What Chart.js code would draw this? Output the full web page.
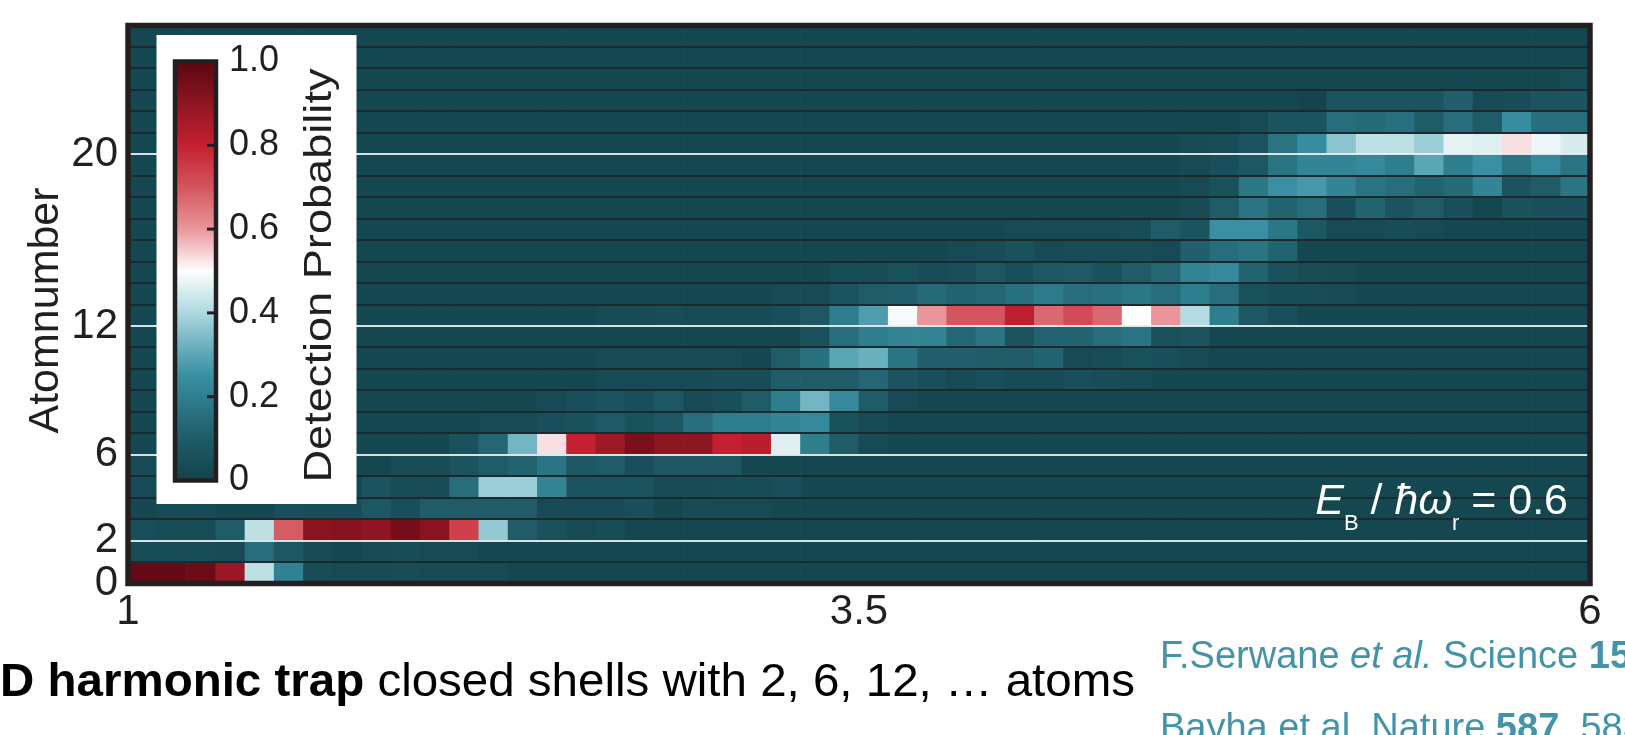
<!DOCTYPE html>
<html>
<head>
<meta charset="utf-8">
<title>Shell structure – detection probability</title>
<script src="https://cdn.jsdelivr.net/npm/chart.js@4.4.1/dist/chart.umd.min.js"></script>
<style>
  html, body { margin: 0; padding: 0; background: #fff; }
  #wrap { width: 1625px; height: 735px; position: relative; }
</style>
</head>
<body>
<div id="wrap"><canvas id="shells"></canvas></div>
<script>
// column centres along the x axis (trap parameter, 1 … 6)
const xBins = [
  1.05, 1.15, 1.25, 1.35, 1.45, 1.55, 1.65, 1.75, 1.85, 1.95,
  2.05, 2.15, 2.25, 2.35, 2.45, 2.55, 2.65, 2.75, 2.85, 2.95,
  3.05, 3.15, 3.25, 3.35, 3.45, 3.55, 3.65, 3.75, 3.85, 3.95,
  4.05, 4.15, 4.25, 4.35, 4.45, 4.55, 4.65, 4.75, 4.85, 4.95,
  5.05, 5.15, 5.25, 5.35, 5.45, 5.55, 5.65, 5.75, 5.85, 5.95
];
const xTickPos  = [1, 3.5, 6];
const xTickText = ['1', '3.5', '6'];
const yTickPos  = [0, 2, 6, 12, 20];
const yTickText = ['0', '2', '6', '12', '20'];
const shellLines = [2, 6, 12, 20];
const cbarTicks = [0, 0.2, 0.4, 0.6, 0.8, 1.0];
const cbarText  = ['0', '0.2', '0.4', '0.6', '0.8', '1.0'];

// detection probability per atom number (row), one value per x bin
const atoms0 = [
  0.98, 0.98, 0.97, 0.88, 0.42, 0.21, 0.04, 0.03, 0.03, 0.04,
  0.03, 0.03, 0.03, 0.02, 0.02, 0.02, 0.02, 0.02, 0.02, 0.02,
  0.02, 0.02, 0.02, 0.02, 0.02, 0.02, 0.02, 0.02, 0.02, 0.02,
  0.02, 0.02, 0.02, 0.02, 0.02, 0.02, 0.02, 0.02, 0.02, 0.02,
  0.02, 0.02, 0.02, 0.02, 0.02, 0.02, 0.02, 0.02, 0.02, 0.02];
const atoms1 = [
  0.04, 0.04, 0.04, 0.03, 0.15, 0.08, 0.03, 0.02, 0.03, 0.04,
  0.03, 0.03, 0.02, 0.02, 0.02, 0.02, 0.02, 0.02, 0.02, 0.02,
  0.02, 0.02, 0.02, 0.02, 0.02, 0.02, 0.02, 0.02, 0.02, 0.02,
  0.02, 0.02, 0.02, 0.02, 0.02, 0.02, 0.02, 0.02, 0.02, 0.02,
  0.02, 0.02, 0.02, 0.02, 0.02, 0.02, 0.02, 0.02, 0.02, 0.02];
const atoms2 = [
  0.05, 0.04, 0.04, 0.10, 0.42, 0.69, 0.91, 0.92, 0.90, 0.95,
  0.91, 0.74, 0.37, 0.10, 0.06, 0.03, 0.04, 0.02, 0.02, 0.02,
  0.02, 0.02, 0.02, 0.02, 0.02, 0.02, 0.02, 0.02, 0.02, 0.02,
  0.02, 0.02, 0.02, 0.02, 0.02, 0.02, 0.02, 0.02, 0.02, 0.02,
  0.02, 0.02, 0.02, 0.02, 0.02, 0.02, 0.02, 0.02, 0.02, 0.02];
const atoms3 = [
  0.02, 0.03, 0.03, 0.02, 0.02, 0.05, 0.04, 0.04, 0.08, 0.05,
  0.10, 0.10, 0.10, 0.10, 0.03, 0.03, 0.03, 0.05, 0.02, 0.03,
  0.03, 0.03, 0.02, 0.02, 0.02, 0.02, 0.02, 0.02, 0.02, 0.02,
  0.02, 0.02, 0.02, 0.02, 0.02, 0.02, 0.02, 0.02, 0.02, 0.02,
  0.02, 0.02, 0.02, 0.02, 0.02, 0.02, 0.02, 0.02, 0.02, 0.02];
const atoms4 = [
  0.03, 0.02, 0.02, 0.02, 0.02, 0.02, 0.02, 0.02, 0.07, 0.04,
  0.04, 0.15, 0.38, 0.38, 0.22, 0.07, 0.07, 0.07, 0.03, 0.03,
  0.04, 0.04, 0.05, 0.02, 0.02, 0.02, 0.02, 0.02, 0.02, 0.02,
  0.02, 0.02, 0.02, 0.02, 0.02, 0.02, 0.02, 0.02, 0.02, 0.02,
  0.02, 0.02, 0.02, 0.02, 0.02, 0.02, 0.02, 0.02, 0.02, 0.02];
const atoms5 = [
  0.03, 0.02, 0.02, 0.02, 0.02, 0.02, 0.02, 0.02, 0.02, 0.04,
  0.04, 0.07, 0.10, 0.12, 0.17, 0.08, 0.10, 0.05, 0.08, 0.08,
  0.08, 0.02, 0.02, 0.02, 0.02, 0.02, 0.02, 0.02, 0.02, 0.02,
  0.02, 0.02, 0.02, 0.02, 0.02, 0.02, 0.02, 0.02, 0.02, 0.02,
  0.02, 0.02, 0.02, 0.02, 0.02, 0.02, 0.02, 0.02, 0.02, 0.02];
const atoms6 = [
  0.02, 0.02, 0.02, 0.02, 0.02, 0.02, 0.02, 0.02, 0.02, 0.02,
  0.02, 0.06, 0.13, 0.33, 0.53, 0.80, 0.87, 0.94, 0.90, 0.90,
  0.80, 0.82, 0.46, 0.20, 0.10, 0.03, 0.02, 0.02, 0.02, 0.02,
  0.02, 0.02, 0.02, 0.02, 0.02, 0.02, 0.02, 0.02, 0.02, 0.02,
  0.02, 0.02, 0.02, 0.02, 0.02, 0.02, 0.02, 0.02, 0.02, 0.02];
const atoms7 = [
  0.02, 0.02, 0.02, 0.02, 0.02, 0.02, 0.02, 0.02, 0.02, 0.02,
  0.02, 0.02, 0.03, 0.03, 0.05, 0.06, 0.09, 0.06, 0.08, 0.15,
  0.20, 0.20, 0.22, 0.23, 0.06, 0.03, 0.02, 0.02, 0.02, 0.02,
  0.02, 0.02, 0.02, 0.02, 0.02, 0.02, 0.02, 0.02, 0.02, 0.02,
  0.02, 0.02, 0.02, 0.02, 0.02, 0.02, 0.02, 0.02, 0.02, 0.02];
const atoms8 = [
  0.02, 0.02, 0.02, 0.02, 0.02, 0.02, 0.02, 0.02, 0.02, 0.02,
  0.02, 0.02, 0.02, 0.02, 0.03, 0.05, 0.07, 0.05, 0.08, 0.03,
  0.05, 0.10, 0.20, 0.33, 0.23, 0.10, 0.03, 0.02, 0.02, 0.02,
  0.02, 0.02, 0.02, 0.02, 0.02, 0.02, 0.02, 0.02, 0.02, 0.02,
  0.02, 0.02, 0.02, 0.02, 0.02, 0.02, 0.02, 0.02, 0.02, 0.02];
const atoms9 = [
  0.02, 0.02, 0.02, 0.02, 0.02, 0.02, 0.02, 0.02, 0.02, 0.02,
  0.02, 0.02, 0.02, 0.02, 0.02, 0.02, 0.03, 0.03, 0.03, 0.03,
  0.04, 0.04, 0.10, 0.10, 0.10, 0.13, 0.07, 0.05, 0.03, 0.05,
  0.03, 0.03, 0.05, 0.04, 0.03, 0.02, 0.02, 0.02, 0.02, 0.02,
  0.02, 0.02, 0.02, 0.02, 0.02, 0.02, 0.02, 0.02, 0.02, 0.02];
const atoms10 = [
  0.02, 0.02, 0.02, 0.02, 0.02, 0.02, 0.02, 0.02, 0.02, 0.02,
  0.02, 0.02, 0.02, 0.02, 0.02, 0.02, 0.03, 0.03, 0.03, 0.03,
  0.03, 0.02, 0.10, 0.16, 0.30, 0.32, 0.17, 0.11, 0.11, 0.10,
  0.10, 0.12, 0.03, 0.04, 0.06, 0.05, 0.03, 0.02, 0.02, 0.02,
  0.02, 0.02, 0.02, 0.02, 0.02, 0.02, 0.02, 0.02, 0.02, 0.02];
const atoms11 = [
  0.02, 0.02, 0.02, 0.02, 0.02, 0.02, 0.02, 0.02, 0.02, 0.02,
  0.02, 0.02, 0.02, 0.02, 0.02, 0.02, 0.02, 0.02, 0.02, 0.02,
  0.02, 0.02, 0.02, 0.06, 0.15, 0.20, 0.22, 0.22, 0.13, 0.17,
  0.07, 0.12, 0.12, 0.15, 0.17, 0.06, 0.07, 0.02, 0.02, 0.02,
  0.02, 0.02, 0.02, 0.02, 0.02, 0.02, 0.02, 0.02, 0.02, 0.02];
const atoms12 = [
  0.02, 0.02, 0.02, 0.02, 0.02, 0.02, 0.02, 0.02, 0.02, 0.02,
  0.02, 0.02, 0.02, 0.02, 0.02, 0.02, 0.03, 0.03, 0.04, 0.03,
  0.03, 0.03, 0.05, 0.08, 0.20, 0.28, 0.49, 0.60, 0.70, 0.70,
  0.81, 0.67, 0.72, 0.67, 0.50, 0.60, 0.41, 0.20, 0.08, 0.05,
  0.02, 0.02, 0.02, 0.02, 0.02, 0.02, 0.02, 0.02, 0.02, 0.02];
const atoms13 = [
  0.02, 0.02, 0.02, 0.02, 0.02, 0.02, 0.02, 0.02, 0.02, 0.02,
  0.02, 0.02, 0.02, 0.02, 0.02, 0.02, 0.02, 0.02, 0.02, 0.02,
  0.02, 0.02, 0.03, 0.03, 0.07, 0.10, 0.11, 0.14, 0.12, 0.13,
  0.16, 0.19, 0.15, 0.16, 0.18, 0.15, 0.20, 0.15, 0.06, 0.04,
  0.04, 0.03, 0.02, 0.02, 0.02, 0.02, 0.02, 0.02, 0.02, 0.02];
const atoms14 = [
  0.02, 0.02, 0.02, 0.02, 0.02, 0.02, 0.02, 0.02, 0.02, 0.02,
  0.02, 0.02, 0.02, 0.02, 0.02, 0.02, 0.02, 0.02, 0.02, 0.02,
  0.02, 0.02, 0.02, 0.02, 0.04, 0.04, 0.06, 0.04, 0.05, 0.08,
  0.05, 0.08, 0.09, 0.06, 0.10, 0.13, 0.22, 0.23, 0.12, 0.06,
  0.04, 0.03, 0.02, 0.02, 0.02, 0.02, 0.02, 0.02, 0.02, 0.02];
const atoms15 = [
  0.02, 0.02, 0.02, 0.02, 0.02, 0.02, 0.02, 0.02, 0.02, 0.02,
  0.02, 0.02, 0.02, 0.02, 0.02, 0.02, 0.02, 0.02, 0.02, 0.02,
  0.02, 0.02, 0.02, 0.02, 0.02, 0.02, 0.02, 0.02, 0.03, 0.04,
  0.06, 0.03, 0.04, 0.04, 0.04, 0.03, 0.11, 0.15, 0.17, 0.12,
  0.02, 0.02, 0.02, 0.02, 0.02, 0.02, 0.02, 0.02, 0.02, 0.02];
const atoms16 = [
  0.02, 0.02, 0.02, 0.02, 0.02, 0.02, 0.02, 0.02, 0.02, 0.02,
  0.02, 0.02, 0.02, 0.02, 0.02, 0.02, 0.02, 0.02, 0.02, 0.02,
  0.02, 0.02, 0.02, 0.02, 0.02, 0.02, 0.02, 0.02, 0.02, 0.02,
  0.03, 0.03, 0.03, 0.03, 0.04, 0.10, 0.07, 0.25, 0.25, 0.18,
  0.08, 0.03, 0.03, 0.04, 0.03, 0.02, 0.02, 0.02, 0.02, 0.02];
const atoms17 = [
  0.02, 0.02, 0.02, 0.02, 0.02, 0.02, 0.02, 0.02, 0.02, 0.02,
  0.02, 0.02, 0.02, 0.02, 0.02, 0.02, 0.02, 0.02, 0.02, 0.02,
  0.02, 0.02, 0.02, 0.02, 0.02, 0.02, 0.02, 0.02, 0.02, 0.02,
  0.02, 0.02, 0.02, 0.02, 0.02, 0.02, 0.03, 0.10, 0.17, 0.12,
  0.15, 0.05, 0.12, 0.07, 0.10, 0.05, 0.02, 0.06, 0.05, 0.05];
const atoms18 = [
  0.02, 0.02, 0.02, 0.02, 0.02, 0.02, 0.02, 0.02, 0.02, 0.02,
  0.02, 0.02, 0.02, 0.02, 0.02, 0.02, 0.02, 0.02, 0.02, 0.02,
  0.02, 0.02, 0.02, 0.02, 0.02, 0.02, 0.02, 0.02, 0.02, 0.02,
  0.02, 0.02, 0.02, 0.02, 0.02, 0.02, 0.03, 0.06, 0.18, 0.25,
  0.27, 0.22, 0.17, 0.15, 0.12, 0.14, 0.22, 0.07, 0.10, 0.17];
const atoms19 = [
  0.02, 0.02, 0.02, 0.02, 0.02, 0.02, 0.02, 0.02, 0.02, 0.02,
  0.02, 0.02, 0.02, 0.02, 0.02, 0.02, 0.02, 0.02, 0.02, 0.02,
  0.02, 0.02, 0.02, 0.02, 0.02, 0.02, 0.02, 0.02, 0.02, 0.02,
  0.02, 0.02, 0.02, 0.02, 0.02, 0.02, 0.03, 0.05, 0.08, 0.17,
  0.22, 0.22, 0.23, 0.20, 0.30, 0.20, 0.25, 0.17, 0.23, 0.17];
const atoms20 = [
  0.02, 0.02, 0.02, 0.02, 0.02, 0.02, 0.02, 0.02, 0.02, 0.02,
  0.02, 0.02, 0.02, 0.02, 0.02, 0.02, 0.02, 0.02, 0.02, 0.02,
  0.02, 0.02, 0.02, 0.02, 0.02, 0.02, 0.02, 0.02, 0.02, 0.02,
  0.02, 0.02, 0.02, 0.02, 0.02, 0.02, 0.03, 0.04, 0.07, 0.17,
  0.24, 0.36, 0.42, 0.42, 0.38, 0.47, 0.46, 0.53, 0.48, 0.45];
const atoms21 = [
  0.02, 0.02, 0.02, 0.02, 0.02, 0.02, 0.02, 0.02, 0.02, 0.02,
  0.02, 0.02, 0.02, 0.02, 0.02, 0.02, 0.02, 0.02, 0.02, 0.02,
  0.02, 0.02, 0.02, 0.02, 0.02, 0.02, 0.02, 0.02, 0.02, 0.02,
  0.02, 0.02, 0.02, 0.02, 0.02, 0.02, 0.02, 0.02, 0.03, 0.07,
  0.07, 0.15, 0.14, 0.16, 0.10, 0.15, 0.10, 0.24, 0.15, 0.15];
const atoms22 = [
  0.02, 0.02, 0.02, 0.02, 0.02, 0.02, 0.02, 0.02, 0.02, 0.02,
  0.02, 0.02, 0.02, 0.02, 0.02, 0.02, 0.02, 0.02, 0.02, 0.02,
  0.02, 0.02, 0.02, 0.02, 0.02, 0.02, 0.02, 0.02, 0.02, 0.02,
  0.02, 0.02, 0.02, 0.02, 0.02, 0.02, 0.02, 0.02, 0.02, 0.02,
  0.01, 0.07, 0.07, 0.07, 0.07, 0.11, 0.03, 0.04, 0.07, 0.07];
const atoms23 = [
  0.02, 0.02, 0.02, 0.02, 0.02, 0.02, 0.02, 0.02, 0.02, 0.02,
  0.02, 0.02, 0.02, 0.02, 0.02, 0.02, 0.02, 0.02, 0.02, 0.02,
  0.02, 0.02, 0.02, 0.02, 0.02, 0.02, 0.02, 0.02, 0.02, 0.02,
  0.02, 0.02, 0.02, 0.02, 0.02, 0.02, 0.02, 0.02, 0.02, 0.02,
  0.02, 0.02, 0.02, 0.02, 0.02, 0.02, 0.02, 0.02, 0.02, 0.04];
const atoms24 = [
  0.02, 0.02, 0.02, 0.02, 0.02, 0.02, 0.02, 0.02, 0.02, 0.02,
  0.02, 0.02, 0.02, 0.02, 0.02, 0.02, 0.02, 0.02, 0.02, 0.02,
  0.02, 0.02, 0.02, 0.02, 0.02, 0.02, 0.02, 0.02, 0.02, 0.02,
  0.02, 0.02, 0.02, 0.02, 0.02, 0.02, 0.02, 0.02, 0.02, 0.02,
  0.02, 0.02, 0.02, 0.02, 0.02, 0.02, 0.02, 0.02, 0.02, 0.02];
const atoms25 = [
  0.02, 0.02, 0.02, 0.02, 0.02, 0.02, 0.02, 0.02, 0.02, 0.02,
  0.02, 0.02, 0.02, 0.02, 0.02, 0.02, 0.02, 0.02, 0.02, 0.02,
  0.02, 0.02, 0.02, 0.02, 0.02, 0.02, 0.02, 0.02, 0.02, 0.02,
  0.02, 0.02, 0.02, 0.02, 0.02, 0.02, 0.02, 0.02, 0.02, 0.02,
  0.02, 0.02, 0.02, 0.02, 0.02, 0.02, 0.02, 0.02, 0.02, 0.02];

const atomRows = [
  atoms0, atoms1, atoms2, atoms3, atoms4, atoms5, atoms6, atoms7, atoms8,
  atoms9, atoms10, atoms11, atoms12, atoms13, atoms14, atoms15, atoms16,
  atoms17, atoms18, atoms19, atoms20, atoms21, atoms22, atoms23, atoms24, atoms25
];
const rowEdges = atomRows.map((_, i) => i).concat(atomRows.length);

// teal – white – red map
const CMAP = [
  [0.00, 19, 66, 75],
  [0.10, 31, 92, 104],
  [0.20, 47, 126, 142],
  [0.25, 58, 143, 163],
  [0.30, 90, 166, 181],
  [0.40, 172, 216, 223],
  [0.50, 255, 255, 255],
  [0.60, 232, 150, 155],
  [0.70, 212, 85, 94],
  [0.80, 196, 32, 48],
  [0.90, 142, 22, 34],
  [1.00, 90, 6, 18],
];

function cmap(v) {
  v = Math.max(0, Math.min(1, v));
  for (let i = 1; i < CMAP.length; i++) {
    if (v <= CMAP[i][0]) {
      const a = CMAP[i - 1], b = CMAP[i];
      const t = (v - a[0]) / (b[0] - a[0]);
      const c = [1, 2, 3].map(k => Math.round(a[k] + (b[k] - a[k]) * t));
      return `rgb(${c[0]},${c[1]},${c[2]})`;
    }
  }
  return 'rgb(90,6,18)';
}

const FONT = "'Liberation Sans', Arial, Helvetica, sans-serif";
const INK = '#231f20';
const CITE = '#4394a8';

// draw a run of differently-styled pieces; optionally squeeze to a width
function drawRun(ctx, parts, x, y, opts = {}) {
  const widths = parts.map(p => { ctx.font = p.font; return ctx.measureText(p.text).width; });
  const total = widths.reduce((a, b) => a + b, 0);
  const sx = opts.width ? opts.width / total : 1;
  let start = x;
  if (opts.align === 'right') start = x - total * sx;
  ctx.save();
  ctx.translate(start, y);
  ctx.scale(sx, 1);
  ctx.textBaseline = 'alphabetic';
  ctx.textAlign = 'left';
  let cx = 0;
  parts.forEach((p, i) => {
    ctx.font = p.font;
    ctx.fillStyle = p.color || opts.color || INK;
    ctx.fillText(p.text, cx, p.dy || 0);
    cx += widths[i];
  });
  ctx.restore();
}

const overlay = {
  id: 'overlay',
  afterDraw(chart) {
    const { ctx, chartArea: ca } = chart;
    ctx.save();

    // frame
    ctx.strokeStyle = INK;
    ctx.lineWidth = 5.5;
    ctx.strokeRect(ca.left, ca.top, ca.right - ca.left, ca.bottom - ca.top);

    // colour bar box
    const bx = ca.left + 28.5, by = ca.top + 9.5;
    ctx.fillStyle = '#ffffff';
    ctx.fillRect(bx, by, 200, 469);

    const barL = ca.left + 47, barW = 41;
    const barTop = ca.top + 36, barBot = ca.top + 455;
    const vy = v => barBot - v * (barBot - barTop);
    const grad = ctx.createLinearGradient(0, barBot, 0, barTop);
    CMAP.forEach(s => grad.addColorStop(s[0], `rgb(${s[1]},${s[2]},${s[3]})`));
    ctx.fillStyle = grad;
    ctx.fillRect(barL, barTop, barW, barBot - barTop);
    ctx.lineWidth = 4.5;
    ctx.strokeStyle = INK;
    ctx.strokeRect(barL, barTop, barW, barBot - barTop);

    ctx.lineWidth = 3;
    cbarTicks.forEach(v => {
      if (v === 0 || v === 1) return;
      ctx.beginPath();
      ctx.moveTo(barL + barW - 9, vy(v));
      ctx.lineTo(barL + barW, vy(v));
      ctx.stroke();
    });
    ctx.fillStyle = INK;
    ctx.font = `36px ${FONT}`;
    ctx.textAlign = 'left';
    ctx.textBaseline = 'middle';
    cbarTicks.forEach((v, i) => ctx.fillText(cbarText[i], ca.left + 101, vy(v)));

    // colour bar title, rotated
    ctx.save();
    ctx.translate(ca.left + 203, ca.top + 250);
    ctx.rotate(-Math.PI / 2);
    ctx.font = `39px ${FONT}`;
    const tw = ctx.measureText('Detection Probability').width;
    ctx.scale(414 / tw, 1);
    ctx.textAlign = 'center';
    ctx.textBaseline = 'alphabetic';
    ctx.fillStyle = INK;
    ctx.fillText('Detection Probability', 0, 0);
    ctx.restore();

    // interaction strength annotation
    drawRun(ctx, [
      { text: 'E', font: `italic 43px ${FONT}` },
      { text: 'B', font: `22px ${FONT}`, dy: 16 },
      { text: ' / ', font: `43px ${FONT}` },
      { text: '\u0127\u03c9', font: `italic 43px ${FONT}` },
      { text: 'r', font: `22px ${FONT}`, dy: 16 },
      { text: ' = 0.6', font: `43px ${FONT}` },
    ], ca.right - 22, ca.bottom - 70, { align: 'right', color: '#ffffff' });

    // caption and references below the chart
    drawRun(ctx, [
      { text: 'D harmonic trap', font: `bold 47px ${FONT}` },
      { text: ' closed shells with 2, 6, 12, \u2026 atoms', font: `47px ${FONT}` },
    ], 0, 696, { width: 1135, color: '#000000' });

    drawRun(ctx, [
      { text: 'F.Serwane ', font: `38px ${FONT}` },
      { text: 'et al.', font: `italic 38px ${FONT}` },
      { text: ' Science ', font: `38px ${FONT}` },
      { text: '15', font: `bold 38px ${FONT}` },
    ], 1160, 668, { color: CITE });
    drawRun(ctx, [
      { text: 'Bayha et al. Nature ', font: `38px ${FONT}` },
      { text: '587', font: `bold 38px ${FONT}` },
      { text: ', 583', font: `38px ${FONT}` },
    ], 1160, 740, { color: CITE });

    ctx.restore();
  }
};

const datasets = atomRows.map((row, r) => ({
  label: 'N = ' + r,
  data: xBins.map(x => ({ x, y: [r, r + 1] })),
  backgroundColor: row.map(cmap),
  borderWidth: 0,
  grouped: false,
  barPercentage: 1,
  categoryPercentage: 1,
}));

function gridColor(v) {
  if (shellLines.includes(v)) return 'rgba(236,242,242,0.9)';
  return '#1c292e';
}

new Chart(document.getElementById('shells'), {
  type: 'bar',
  data: { datasets },
  options: {
    responsive: true,
    maintainAspectRatio: false,
    animation: false,
    events: [],
    layout: { padding: { left: 0, right: 35, top: 25.5, bottom: 0 } },
    plugins: { legend: { display: false }, tooltip: { enabled: false } },
    scales: {
      x: {
        type: 'linear', min: 1, max: 6, offset: false,
        afterBuildTicks: s => { s.ticks = xTickPos.map(v => ({ value: v })); },
        afterFit: s => { s.height = 151.5; },
        grid: { display: false, drawTicks: false, offset: false },
        border: { display: false },
        ticks: {
          autoSkip: false, maxRotation: 0, padding: 4, color: INK,
          font: { size: 42, family: FONT },
          callback: v => xTickText[xTickPos.indexOf(v)]
        }
      },
      y: {
        type: 'linear', min: 0, max: 26,
        afterBuildTicks: s => { s.ticks = rowEdges.map(v => ({ value: v })); },
        afterFit: s => { s.width = 128; s.paddingTop = 0; s.paddingBottom = 0; },
        grid: { z: 1, drawTicks: false, lineWidth: 2, color: c => gridColor(c.tick.value) },
        border: { display: false },
        ticks: {
          autoSkip: false, padding: 10, color: INK,
          font: { size: 42, family: FONT },
          callback: v => { const i = yTickPos.indexOf(v); return i < 0 ? '' : yTickText[i]; }
        },
        title: {
          display: true, text: 'Atomnumber ', color: INK,
          font: { size: 43, family: FONT },
          padding: { top: 20, bottom: 0 }
        }
      }
    }
  },
  plugins: [overlay]
});
</script>
</body>
</html>
